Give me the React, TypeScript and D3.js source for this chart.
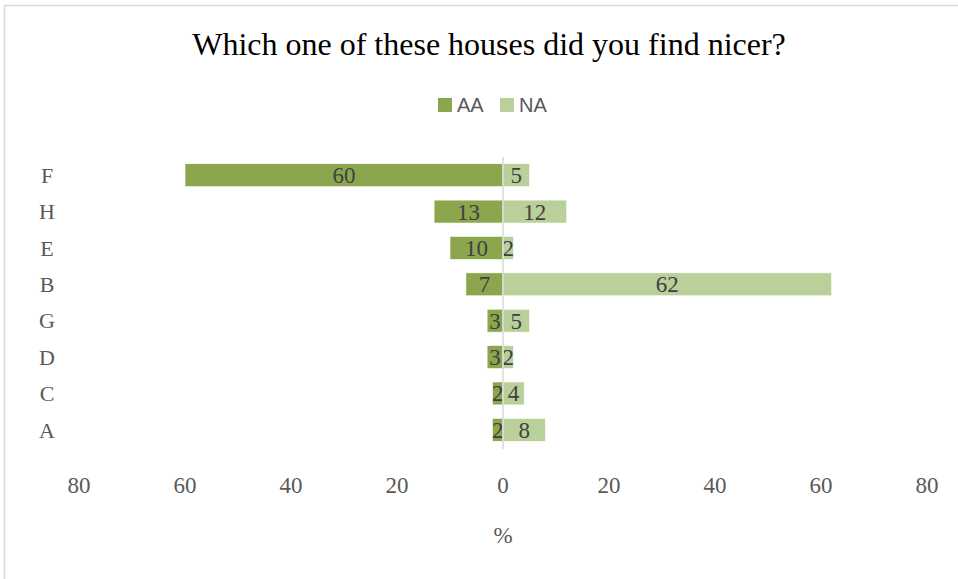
import React from "react";
import * as d3 from "d3";

const categories = ["F", "H", "E", "B", "G", "D", "C", "A"];
const aaValues = [60, 13, 10, 7, 3, 3, 2, 2];
const naValues = [5, 12, 2, 62, 5, 2, 4, 8];
const tickValues = [-80, -60, -40, -20, 0, 20, 40, 60, 80];
const seriesNames = ["AA", "NA"];

const W = 958;
const H = 579;
const AA_COLOR = "#8BA64D";
const NA_COLOR = "#B9D09A";
const serif = "'Liberation Serif', 'Times New Roman', serif";
const sans = "'Liberation Sans', Arial, sans-serif";

export default function App() {
  const x = d3.scaleLinear().domain([-80, 80]).range([79, 927]);
  const y = d3.scaleBand().domain(categories).range([157, 448]).paddingInner(0.37).paddingOuter(0.185);
  const bw = y.bandwidth();

  return (
    <div style={{ position: "absolute", left: 0, top: 0 }}>
      <svg width={W} height={H} style={{ display: "block" }}>
        <rect x={0} y={0} width={W} height={H} fill="#fff" />
        <path d={`M4.5,${H} V5.5 H${W}`} fill="none" stroke="#D9D9D9" strokeWidth={1.5} />
        <text x={489} y={55} textAnchor="middle" fontFamily={serif} fontSize={32} fill="#000">
          Which one of these houses did you find nicer?
        </text>
        {/* legend */}
        <g fontFamily={sans} fontSize={20} fill="#595959">
          <rect x={438} y={98} width={14} height={14} fill={AA_COLOR} />
          <text x={457} y={112}>{seriesNames[0]}</text>
          <rect x={500} y={98} width={14} height={14} fill={NA_COLOR} />
          <text x={519} y={112}>{seriesNames[1]}</text>
        </g>
        {/* bars */}
        {categories.map((c, i) => {
          const yy = y(c)!;
          const a = aaValues[i];
          const n = naValues[i];
          return (
            <g key={c}>
              <rect x={x(-a)} y={yy} width={x(0) - x(-a)} height={bw} fill={AA_COLOR} stroke="#fff" strokeWidth={0.6} />
              <rect x={x(0)} y={yy} width={x(n) - x(0)} height={bw} fill={NA_COLOR} stroke="#fff" strokeWidth={0.6} />
              <text x={(x(-a) + x(0)) / 2} y={yy + bw / 2} dy="0.35em" textAnchor="middle" fontFamily={serif} fontSize={23} fill="#404040">{a}</text>
              <text x={(x(n) + x(0)) / 2} y={yy + bw / 2} dy="0.35em" textAnchor="middle" fontFamily={serif} fontSize={23} fill="#404040">{n}</text>
              <text x={47} y={yy + bw / 2} dy="0.35em" textAnchor="middle" fontFamily={serif} fontSize={22} fill="#595959">{c}</text>
            </g>
          );
        })}
        <line x1={x(0)} x2={x(0)} y1={157} y2={449} stroke="#D9D9D9" strokeWidth={1.5} />
        {/* ticks */}
        {tickValues.map((t) => (
          <text key={t} x={x(t)} y={493} textAnchor="middle" fontFamily={serif} fontSize={23} fill="#595959">{Math.abs(t)}</text>
        ))}
        <text x={x(0)} y={543} textAnchor="middle" fontFamily={serif} fontSize={23} fill="#595959">%</text>
      </svg>
    </div>
  );
}
